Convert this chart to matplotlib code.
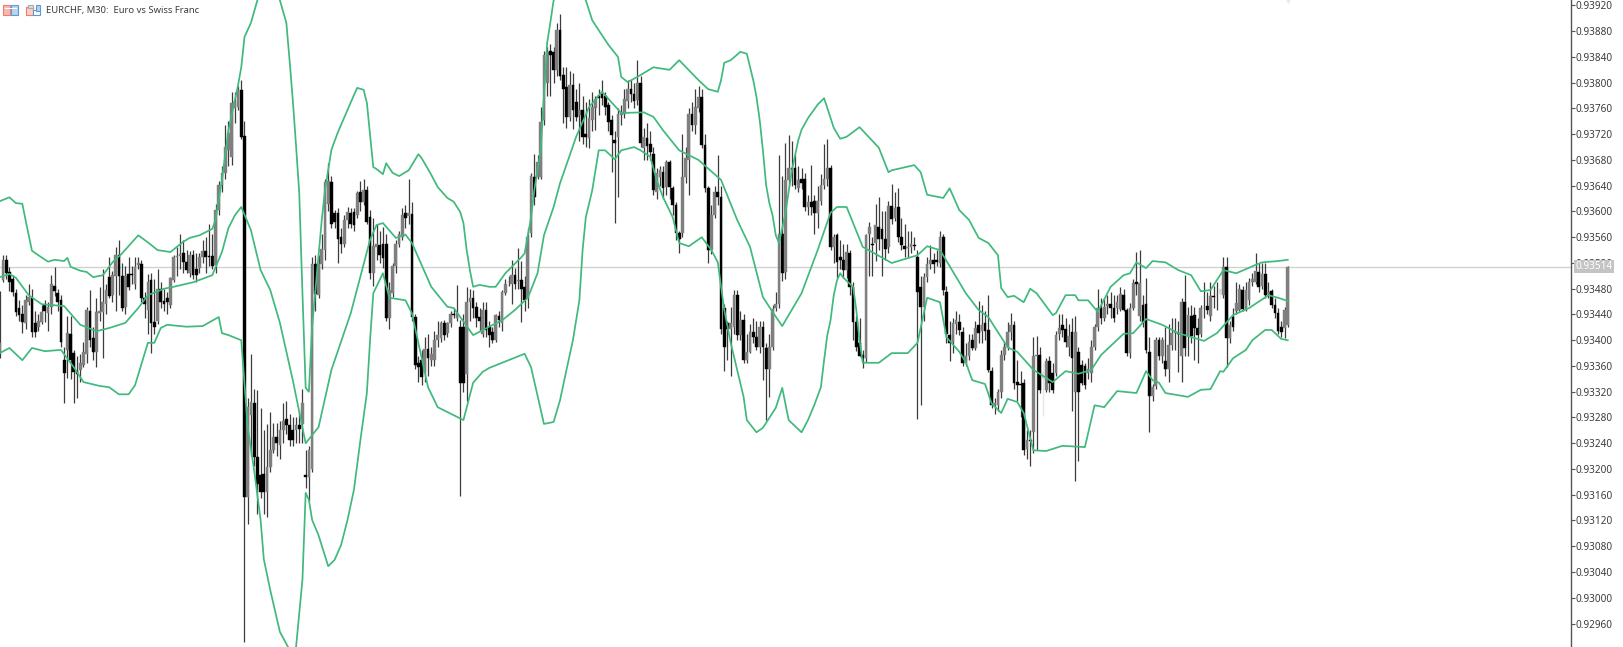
import numpy as np
import matplotlib
matplotlib.use('Agg')
import matplotlib.pyplot as plt
from matplotlib.patches import Rectangle

plt.rcParams['font.family'] = ['Noto Sans', 'DejaVu Sans']

# all prices are points above 0.93000, bar numbers run from -1 to 399
opens = [
    380,493,525,506,495,473,450,441,426,460, 466,426,420,429,455,442,452,484,474,462,
    370,385,410,380,352,354,362,378,445,403, 382,443,444,457,498,470,500,532,500,452,
    503,503,488,517,519,465,447,493,428,430, 480,461,465,455,493,529,531,535,522,504,
    532,511,512,529,539,531,531,517,602,641, 660,695,
    685,760,763,788,717,157,284,302,219,190, 193,165,203,229,250,237,260,278,268,260,
    260,268,270,190,188,200,519,470,519,540, 612,646,597,597,560,550,586,598,599,594,
    630,615,633,592,505,545,548,550,549,434, 473,516,550,560,597,593,596,436,365,370,
    351,387,370,370,400,403,426,411,426,441, 434,421,421,348,460,465,452,436,410,447,
    421,413,400,
    437,426,473,490,488,501,492,493,483,465, 566,654,654,654,742,800,850,848,820,882,
    812,794,747,796,770,750,757,721,714,742, 760,780,782,780,765,742,711,716,750,752,
    772,791,783,773,799,698,714,705,690,631, 654,662,638,677,636,610,566,566,654,680,
    752,735,761,778,703,636,540,594,630,623, 450,426,418,421,470,408,431,369,382,413,
    405,390,421,388,356,390,450,457,565,506, 649,667,667,637,650,651,607,615,617,597,
    617,641,651,667,545,563,530,524,509,535, 483,429,395,377,372,565,550,551,576,573,
    558,545,608,590,607,561,547,543,545,548, 530,483,452,498,519,524,524,520,560,475,
    408,398,425,429,413,364,375,401,388,424, 414,426,416,352,300,300,320,377,390,413,
    424,335,332,333,231,245,258,375,377,350, 323,367,349,349,409,424,418,390,413,320,
    382,362,360,349,349,390,421,450,434,453, 457,450,450,448,470,447,380,450,490,437,
    455,457,382,313,329,400,375,367,355,393, 412,412,375,460,406,437,439,419,409,450,
    453,437,468,470,
    480,470,514,403,436,445,447,478,449,462, 490,491,506,484,503,472,476,455,443,420,419,424,
]
highs = [
    476,532,532,513,502,480,462,455,470,487, 480,445,440,455,462,460,502,514,480,470,
    390,437,437,385,375,378,398,452,478,420, 465,483,510,488,530,508,545,555,520,515,
    530,515,530,530,525,475,503,505,495,510, 490,480,475,498,532,545,565,555,540,538,
    540,535,535,555,560,580,565,612,648,670, 735,740,
    786,786,795,804,740,310,379,325,322,295, 260,270,288,272,272,275,303,305,285,280,
    280,290,325,230,235,530,532,533,565,650, 676,655,603,605,575,595,607,605,605,632,
    647,650,640,602,590,580,570,576,565,490, 520,555,570,605,610,650,615,440,375,385,
    405,410,390,415,430,430,432,428,445,450, 486,431,440,482,480,478,460,450,460,460,
    430,420,440,
    445,478,495,500,524,512,543,523,500,575, 660,690,688,762,850,855,860,855,893,907,
    825,825,818,815,790,800,780,770,775,785, 780,790,805,785,770,750,725,760,765,790,
    805,805,800,835,810,730,738,725,700,668, 670,670,680,680,640,615,570,720,700,760,
    770,790,795,790,720,640,610,640,688,640, 456,430,452,478,478,445,440,410,425,435,
    430,430,430,395,410,455,475,688,655,707, 719,710,690,670,668,660,625,672,625,640,
    658,705,712,672,565,566,555,550,550,540, 490,437,434,385,565,584,560,612,622,600,
    600,617,642,630,637,590,580,570,570,560, 540,500,505,530,548,535,540,570,565,485,
    430,435,445,440,420,395,410,410,430,461, 455,445,470,358,310,325,385,398,428,442,
    430,370,352,340,260,260,405,407,390,365, 373,375,365,415,440,440,435,425,435,437,
    390,370,365,372,400,425,480,465,465,470, 475,470,470,482,480,450,458,495,537,540,
    470,497,405,332,405,405,405,420,425,435, 435,430,465,501,452,454,452,435,455,490,
    475,490,485,490,
    480,530,530,430,450,490,487,485,490,497, 505,535,520,520,520,490,480,465,450,430,452,515,
]
lows = [
    372,490,495,476,468,438,430,412,418,455, 405,405,415,425,428,414,440,468,445,390,
    302,341,340,302,310,335,358,365,390,370, 358,430,372,440,465,460,445,470,445,440,
    478,488,480,510,460,435,410,380,410,425, 450,445,440,450,490,500,510,505,505,498,
    495,490,505,520,504,515,510,505,595,630, 650,670,
    672,737,758,712,-68,115,220,205,130,155, 130,125,195,225,220,215,240,255,235,235,
    240,240,240,170,150,195,445,465,510,525, 600,575,575,520,535,545,575,575,570,590,
    600,610,580,495,485,525,520,512,430,418, 467,505,545,555,575,580,430,355,335,330,
    335,345,360,360,390,398,400,405,420,435, 430,158,320,305,430,435,420,415,405,405,
    390,395,398,
    420,415,470,485,457,480,480,429,445,450, 560,610,650,650,735,780,780,800,810,805,
    738,730,740,728,740,710,705,700,698,725, 727,750,765,750,725,662,582,623,735,745,
    760,770,760,765,700,680,680,680,625,620, 640,620,625,620,595,555,535,560,645,625,
    725,720,755,698,630,520,534,590,610,410, 352,370,345,410,400,400,365,365,380,395,
    385,380,338,276,312,385,445,450,492,495, 640,640,635,630,635,600,595,595,565,575,
    610,635,640,540,520,497,510,496,497,470, 400,383,375,357,366,500,500,523,540,500,
    525,535,580,585,553,540,530,530,535,540, 277,300,430,490,510,505,515,513,470,395,
    368,380,410,408,360,360,370,385,385,395, 395,400,350,295,285,290,310,370,385,400,
    325,305,280,222,215,204,225,230,318,282, 320,320,318,345,400,405,390,375,290,182,
    212,330,325,340,335,385,415,425,430,440, 435,428,440,445,445,375,372,447,470,430,
    420,380,258,305,325,370,365,345,335,385, 385,350,335,375,375,395,370,365,405,435,
    440,430,450,447,
    465,465,359,395,415,440,445,445,445,455, 485,487,475,480,465,465,450,435,410,405,403,420,
]
closes = [
    395,525,504,491,475,444,439,429,462,467, 413,413,430,444,445,452,488,476,460,398,
    349,411,369,351,348,364,382,447,400,382, 444,445,460,478,468,501,532,500,450,500,
    483,501,514,520,465,457,491,426,421,480, 460,457,460,496,529,531,534,522,509,532,
    501,501,530,539,530,529,515,602,641,660, 700,722,
    768,770,788,716,157,296,304,219,177,165, 164,203,229,250,240,260,275,268,245,245,
    268,262,302,187,229,518,472,519,542,646, 648,581,584,558,550,587,599,581,579,628,
    615,633,584,504,547,550,532,527,434,478, 516,550,565,594,590,597,436,361,358,343,
    387,372,378,400,408,426,408,426,441,439, 442,333,333,460,465,450,434,430,447,416,
    408,400,439,
    432,475,488,491,501,488,493,480,462,560, 655,623,677,739,843,848,843,820,882,810,
    791,747,796,757,747,757,716,716,745,763, 775,776,777,763,739,719,706,752,755,775,
    790,783,771,799,706,716,701,693,633,659, 664,636,677,638,610,566,558,654,683,752,
    734,763,778,703,636,540,594,630,623,418, 390,418,426,470,408,431,369,382,413,405,
    390,421,390,356,390,449,457,565,504,649, 667,665,641,649,645,607,615,607,597,617,
    641,651,667,545,561,522,525,509,537,483, 429,390,376,372,563,576,548,579,558,558,
    542,608,589,605,561,548,542,545,550,547, 475,452,498,519,524,519,521,560,478,410,
    395,426,431,416,364,375,398,388,419,411, 424,414,354,300,302,320,377,390,413,424,
    333,330,330,230,245,243,375,377,323,340, 367,333,323,408,419,416,398,406,372,413,
    320,333,331,356,390,421,450,434,452,457, 450,434,460,472,447,380,450,489,487,489,
    427,385,313,328,400,375,400,355,393,411, 415,410,460,388,439,406,419,408,450,450,
    447,468,467,470,
    472,514,403,423,421,458,480,449,478,490, 495,508,483,503,470,475,455,442,415,413,447,514,
]
faint_bars = [323, 378]

upper_bar = [-1,2,4,6,7,9,11,14,16,19,20,21,24,26,28,31,34,37,42,45,48,52,56,58,61,65,66,67,68,70,73,74,75,77,79,81,84,86,88,89,90,91,92,93,94,95,96,99,100,102,104,107,109,110,112,113,114,115,116,118,119,121,123,126,129,130,133,135,138,140,142,143,144,145,146,148,151,153,156,161,162,163,164,165,166,167,168,169,170,171,173,176,179,181,183,186,188,191,192,194,197,202,207,210,216,219,222,223,224,226,229,231,233,234,235,236,237,238,239,240,241,242,243,245,247,248,250,253,255,258,260,262,266,272,275,276,283,285,287,292,294,297,300,303,306,309,310,312,314,317,319,321,326,327,330,333,334,337,340,344,348,350,352,355,357,361,365,369,372,375,379,383,389,391,396,399]
upper_val = [616,622,613,612,587,539,532,522,525,523,528,514,508,506,498,501,521,535,563,552,540,537,553,559,563,573,587,618,649,726,796,824,871,893,928,941,947,928,893,835,773,703,629,473,326,320,421,587,633,696,723,758,781,792,789,769,719,669,666,658,675,660,655,664,689,683,657,638,621,615,599,582,540,509,483,486,483,483,504,529,535,563,591,633,665,695,781,862,894,928,941,952,941,928,897,874,859,840,809,801,809,824,820,835,804,790,786,804,831,835,848,845,804,778,742,695,641,613,594,563,551,574,598,664,711,727,745,766,776,730,713,716,731,699,661,664,672,661,626,621,636,602,587,559,551,532,481,467,469,459,480,473,439,442,470,470,462,462,444,483,501,504,521,512,523,521,509,501,476,478,509,504,517,521,523,525]
middle_bar = [-1,2,4,8,12,19,24,29,33,38,42,45,50,53,59,65,68,70,72,74,77,80,83,86,90,94,98,102,108,114,116,118,122,125,127,133,138,140,146,151,155,159,163,166,168,171,173,178,182,186,192,199,202,205,210,216,223,228,232,236,239,242,248,253,257,259,262,267,276,284,287,291,297,299,303,306,312,315,320,326,330,334,338,341,348,351,355,360,365,373,377,382,387,393,396,399]
middle_val = [498,503,497,470,456,453,424,414,419,427,450,470,480,483,490,501,537,574,594,607,571,509,478,427,338,240,265,354,442,556,579,582,559,564,551,483,452,450,408,421,431,447,466,504,563,607,644,716,762,786,753,754,747,726,695,680,649,587,545,467,444,422,473,540,598,607,607,545,520,532,546,540,490,473,447,436,389,382,354,335,352,348,354,377,410,411,433,424,411,399,411,439,450,470,466,461]
lower_bar = [-1,2,6,9,13,18,22,25,30,33,36,39,41,45,47,49,51,57,62,67,68,70,74,76,78,80,81,83,86,89,91,93,94,95,96,98,101,103,105,107,109,111,113,114,115,118,120,125,127,129,132,135,143,146,149,151,162,164,168,171,173,175,177,179,180,181,183,185,187,190,192,196,198,201,203,205,208,210,213,217,220,222,223,224,226,228,230,231,234,236,240,242,244,248,250,252,254,255,256,257,258,259,260,261,264,265,266,267,272,276,281,284,287,291,293,297,299,301,305,307,310,312,315,317,320,324,329,336,339,342,346,352,355,357,359,361,368,372,375,378,379,382,386,388,392,394,397,399]
lower_val = [380,388,369,388,383,385,358,335,329,327,316,316,330,396,396,419,424,421,422,436,411,408,400,265,198,121,60,12,-53,-81,-77,28,163,152,121,97,49,59,82,121,168,245,318,400,473,504,466,462,442,396,327,296,276,334,351,357,379,358,270,273,307,354,400,462,540,591,633,695,695,681,695,700,695,685,649,622,591,551,546,560,540,521,483,447,396,354,312,276,257,264,295,326,276,257,276,300,327,369,408,431,470,493,504,497,483,447,400,365,365,380,380,396,466,459,405,382,366,338,332,302,287,309,304,287,229,228,236,234,299,296,321,318,352,338,334,318,312,323,324,352,351,372,385,400,416,416,402,400]

bid_price = 514
tick_labels = ['0.93920','0.93880','0.93840','0.93800','0.93760','0.93720','0.93680','0.93640','0.93600',
               '0.93560','0.93520','0.93480','0.93440','0.93400','0.93360','0.93320','0.93280','0.93240',
               '0.93200','0.93160','0.93120','0.93080','0.93040','0.93000','0.92960']


def to_price(points):
    return 0.93 + np.array(points) / 100000


GREEN = '#3fb97c'
W, H = 1623, 647
AXIS_X = 1571

fig = plt.figure(figsize=(W / 100, H / 100), dpi=100, facecolor='white')
ax = fig.add_axes([0, 0, AXIS_X / W, 1])
ax.set_xlim(-0.93, 486.96)
ax.set_ylim(to_price(-76.5), to_price(928.5))

bars = np.arange(len(closes)) - 1
o, h, l, c = to_price(opens), to_price(highs), to_price(lows), to_price(closes)
up = c >= o
wick_colors = ['#e4e4e4' if b in faint_bars else '#3c3c3c' for b in bars]
body_colors = ['#dddddd' if b in faint_bars else ('#7f7f7f' if u else '#000000') for b, u in zip(bars, up)]

ax.axhline(to_price(bid_price), color='#cfcfcf', lw=0.9, zorder=1)
ax.vlines(bars, l, h, colors=wick_colors, lw=0.9, zorder=2)
ax.bar(bars, np.abs(c - o), bottom=np.minimum(o, c), width=0.85, color=body_colors,
       edgecolor=body_colors, linewidth=0.3, zorder=3)

for band_bar, band_val in [(upper_bar, upper_val), (middle_bar, middle_val), (lower_bar, lower_val)]:
    ax.plot(band_bar, to_price(band_val), color=GREEN, lw=1.25, zorder=4, solid_joinstyle='round')

# chart shift marker at the top
ax.plot([bars[-1]], [to_price(928.5)], marker='v', ms=6, color='#ece8f0', mec='none', clip_on=True)

for side in ['top', 'left', 'bottom']:
    ax.spines[side].set_visible(False)
ax.spines['right'].set_color('#555555')
ax.spines['right'].set_linewidth(1.0)
ax.set_xticks([])
ax.yaxis.tick_right()
ax.set_yticks([float(t) for t in tick_labels])
ax.set_yticklabels(tick_labels)
ax.tick_params(axis='y', length=3, width=0.8, color='#555555', labelcolor='#3c3c3c', labelsize=7.2, pad=0.6)

ax.text(1.0028, to_price(bid_price), '0.93514', transform=ax.get_yaxis_transform(), ha='left', va='center',
        fontsize=7.2, color='white', zorder=10, clip_on=False,
        bbox=dict(facecolor='#c4c4c4', edgecolor='none', pad=0.7))

# header: icons and symbol text
def px_rect(x, y, w, h, fc, ec='none', lw=0.8):
    fig.add_artist(Rectangle((x / W, 1 - (y + h) / H), w / W, h / H, facecolor=fc, edgecolor=ec, linewidth=lw,
                             transform=fig.transFigure))

px_rect(3.5, 5, 7, 10, '#f8b8b0', '#ee7d70')
px_rect(10.5, 5, 7, 10, '#b8d4ee', '#5b9bd5')
for yy in [8.3, 11.6]:
    px_rect(4.5, yy, 12, 0.7, '#ffffff')
px_rect(25.5, 7, 7, 8, '#fbd0ca', '#ee7d70')
px_rect(32.5, 10, 7, 5, '#ffffff', '#5b9bd5')
px_rect(35.5, 5, 4, 6, '#b8d4ee', '#5b9bd5')
px_rect(28, 5, 5, 3, '#dddddd', '#aaaaaa')

fig.text(45.5 / W, 1 - 10.5 / H, 'EURCHF, M30:  Euro vs Swiss Franc', ha='left', va='center',
         fontsize=6.8, color='#3c3c3c')

fig.savefig('out.png', dpi=100, facecolor='white')
